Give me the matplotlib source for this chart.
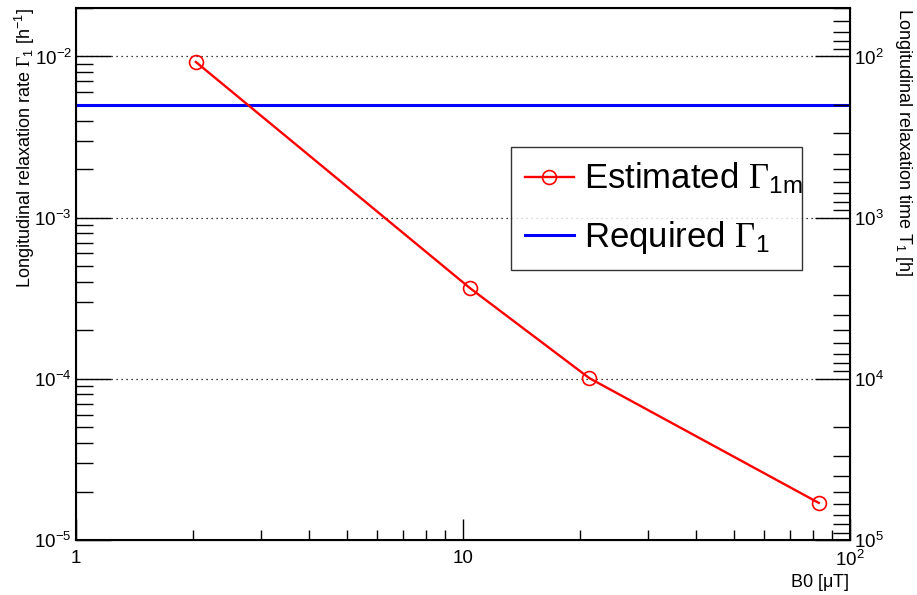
import math
import matplotlib.pyplot as plt
from matplotlib.ticker import LogLocator, FixedLocator, NullFormatter, FuncFormatter

plt.rcParams['font.family'] = ['Liberation Sans', 'DejaVu Sans']
plt.rcParams['mathtext.fontset'] = 'custom'
plt.rcParams['mathtext.rm'] = 'Liberation Sans'
plt.rcParams['mathtext.it'] = 'Liberation Sans:italic'
plt.rcParams['mathtext.sf'] = 'Liberation Serif'

# field values [uT] and estimated relaxation rate [1/h]
b0 = [2.04, 10.4, 21.2, 83.0]
gamma_est = [9.25e-3, 3.67e-4, 1.01e-4, 1.70e-5]
gamma_req = 5.0e-3

def pow10(v, pos):
  e = int(round(math.log10(v)))
  return r'$\mathregular{10^{%d}}$' % e

fig = plt.figure(figsize=(9.17, 5.95), dpi=100)
ax = fig.add_axes([0.0829, 0.0924, 0.8441, 0.8942])

ax.set_xscale('log')
ax.set_yscale('log')
ax.set_xlim(1, 100)
ax.set_ylim(1e-5, 2e-2)

ax.plot(b0, gamma_est, color='red', lw=1.7, marker='o', ms=10, mfc='none',
        mec='red', mew=1.2, label=r'Estimated $\mathsf{\Gamma}_{\mathregular{1m}}$', zorder=3)
ax.axhline(gamma_req, color='blue', lw=2.2, label=r'Required $\mathsf{\Gamma}_{\mathregular{1}}$')

# grid only at major y
for g in [1e-4, 1e-3, 1e-2]:
  ax.axhline(g, color='black', lw=0.9, ls=(0, (1, 3)), zorder=1)

ax.xaxis.set_major_locator(FixedLocator([1, 10, 100]))
ax.xaxis.set_major_formatter(FuncFormatter(lambda v, p: {1: '1', 10: '10', 100: r'$\mathregular{10^{2}}$'}[int(round(v))]))
ax.xaxis.set_minor_locator(LogLocator(base=10, subs=range(2, 10)))
ax.xaxis.set_minor_formatter(NullFormatter())
ax.yaxis.set_major_locator(LogLocator(base=10, numticks=10))
ax.yaxis.set_major_formatter(FuncFormatter(pow10))
ax.yaxis.set_minor_locator(LogLocator(base=10, subs=range(2, 10), numticks=10))
ax.yaxis.set_minor_formatter(NullFormatter())

ax.tick_params(axis='x', which='major', direction='in', length=15, width=1, labelsize=13.5, pad=7, top=False)
ax.tick_params(axis='x', which='minor', direction='in', length=7, width=1, top=False)
ax.tick_params(axis='y', which='major', direction='in', length=25, width=1, labelsize=13.5, pad=3, right=False)
ax.tick_params(axis='y', which='minor', direction='in', length=12, width=1, right=False)
for s in ax.spines.values():
  s.set_linewidth(1.5)

ax2 = ax.twinx()
ax2.set_yscale('log')
ax2.set_ylim(1e5, 50)
ax2.yaxis.set_major_locator(LogLocator(base=10, numticks=10))
ax2.yaxis.set_major_formatter(FuncFormatter(pow10))
ax2.yaxis.set_minor_locator(LogLocator(base=10, subs=range(2, 10), numticks=10))
ax2.yaxis.set_minor_formatter(NullFormatter())
ax2.tick_params(axis='y', which='major', direction='in', length=25, width=1, labelsize=13.5, pad=3)
ax2.tick_params(axis='y', which='minor', direction='in', length=12, width=1)

fig.text(0.014, 0.987, r'Longitudinal relaxation rate $\mathsf{\Gamma}_{\mathregular{1}}$ [h$^{\mathregular{-1}}$]',
         rotation=90, ha='left', va='top', fontsize=13)
fig.text(0.997, 0.987, r'Longitudinal relaxation time T$_{\mathregular{1}}$ [h]',
         rotation=-90, ha='right', va='top', fontsize=13)
fig.text(0.926, 0.004, r'B0 [$\mathregular{\mu}$T]', ha='right', va='bottom', fontsize=13)

leg = ax.legend(loc='upper left', bbox_to_anchor=(0.562, 0.513, 0.376, 0.226), mode='expand',
                fontsize=25, frameon=True, fancybox=False, edgecolor='black',
                handlelength=1.4, handletextpad=0.3, borderpad=0.4, labelspacing=0.65,
                borderaxespad=0)
leg.get_frame().set_linewidth(1.0)

fig.savefig('out.png', dpi=100)
